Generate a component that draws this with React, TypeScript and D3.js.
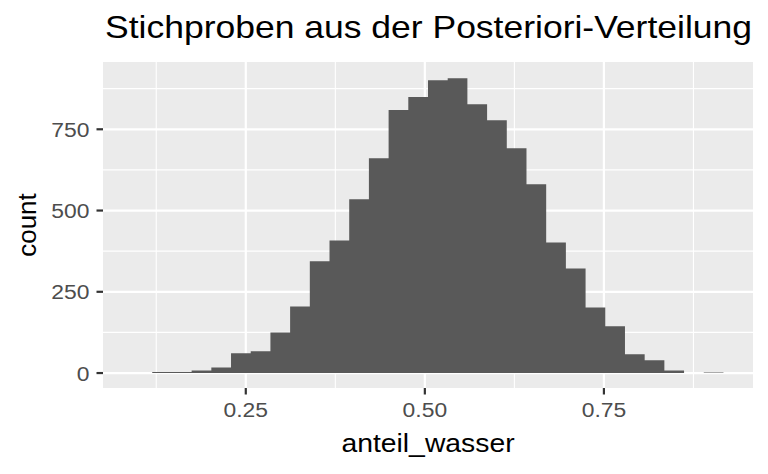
import React from "react";
import * as d3 from "d3";

// ---- data ----
const binStart = 0.0919;
const binWidth = 0.0275;
const counts = [0, 3, 3, 8, 17, 61, 67, 125, 205, 344, 408, 535, 661, 809, 849, 901, 907, 827, 778, 692, 581, 402, 322, 202, 144, 58, 39, 8, 0, 2];
const xTicks = [0.25, 0.5, 0.75];
const xMinor = [0.125, 0.375, 0.625, 0.875];
const yTicks = [0, 250, 500, 750];
const yMinor = [125, 375, 625, 875];
const title = "Stichproben aus der Posteriori-Verteilung";
const xLabel = "anteil_wasser";
const yLabel = "count";

const W = 768;
const H = 474;
const panel = { left: 103, right: 753, top: 62, bottom: 388 };
const FONT = "'Liberation Sans', Arial, Helvetica, sans-serif";
const SX = 1.09;

export default function App() {
  const bins = counts.map((c, i) => ({ x0: binStart + i * binWidth, x1: binStart + (i + 1) * binWidth, c }));
  const xMin = binStart;
  const xMax = binStart + counts.length * binWidth;
  const xPad = (xMax - xMin) * 0.05;
  const x = d3.scaleLinear().domain([xMin - xPad, xMax + xPad]).range([panel.left, panel.right]);
  const y = d3.scaleLinear().domain([-46, 957]).range([panel.bottom, panel.top]);

  const pts: [number, number][] = bins.map((b) => [b.x0, b.c]);
  pts.push([bins[bins.length - 1].x1, bins[bins.length - 1].c]);
  const area = d3
    .area<[number, number]>()
    .x((d) => x(d[0]))
    .y0(y(0))
    .y1((d) => y(d[1]))
    .curve(d3.curveStepAfter);

  const fmt = d3.format(".2f");

  return (
    <svg width={W} height={H} style={{ position: "absolute", left: 0, top: 0, background: "#fff" }}>
      <rect x={panel.left} y={panel.top} width={panel.right - panel.left} height={panel.bottom - panel.top} fill="#EBEBEB" />
      {yMinor.map((t) => (
        <line key={"ym" + t} x1={panel.left} x2={panel.right} y1={y(t)} y2={y(t)} stroke="#fff" strokeWidth={1.1} />
      ))}
      {xMinor.map((t) => (
        <line key={"xm" + t} y1={panel.top} y2={panel.bottom} x1={x(t)} x2={x(t)} stroke="#fff" strokeWidth={1.1} />
      ))}
      {yTicks.map((t) => (
        <line key={"yM" + t} x1={panel.left} x2={panel.right} y1={y(t)} y2={y(t)} stroke="#fff" strokeWidth={2.2} />
      ))}
      {xTicks.map((t) => (
        <line key={"xM" + t} y1={panel.top} y2={panel.bottom} x1={x(t)} x2={x(t)} stroke="#fff" strokeWidth={2.2} />
      ))}
      <path d={area(pts) || ""} fill="#595959" />

      {/* y axis */}
      {yTicks.map((t) => (
        <g key={"yt" + t}>
          <line x1={panel.left - 6.5} x2={panel.left} y1={y(t)} y2={y(t)} stroke="#333333" strokeWidth={2.2} />
          <text
            transform={`translate(${panel.left - 13.5},${y(t) + 7.5}) scale(${SX},1)`}
            textAnchor="end"
            fontFamily={FONT}
            fontSize={21}
            fill="#4D4D4D"
          >
            {t}
          </text>
        </g>
      ))}
      {/* x axis */}
      {xTicks.map((t) => (
        <g key={"xt" + t}>
          <line x1={x(t)} x2={x(t)} y1={panel.bottom} y2={panel.bottom + 6.5} stroke="#333333" strokeWidth={2.2} />
          <text
            transform={`translate(${x(t)},${416.7}) scale(${SX},1)`}
            textAnchor="middle"
            fontFamily={FONT}
            fontSize={21}
            fill="#4D4D4D"
          >
            {fmt(t)}
          </text>
        </g>
      ))}
      <text
        transform={`translate(${(panel.left + panel.right) / 2},452) scale(${SX},1)`}
        textAnchor="middle"
        fontFamily={FONT}
        fontSize={26}
        fill="#000"
      >
        {xLabel}
      </text>
      <text
        transform={`translate(36,${(panel.top + panel.bottom) / 2}) rotate(-90)`}
        textAnchor="middle"
        fontFamily={FONT}
        fontSize={26}
        fill="#000"
      >
        {yLabel}
      </text>
      <text x={105} y={37.5} fontFamily={FONT} fontSize={31.5} fill="#000" textLength={647} lengthAdjust="spacingAndGlyphs">
        {title}
      </text>
    </svg>
  );
}
